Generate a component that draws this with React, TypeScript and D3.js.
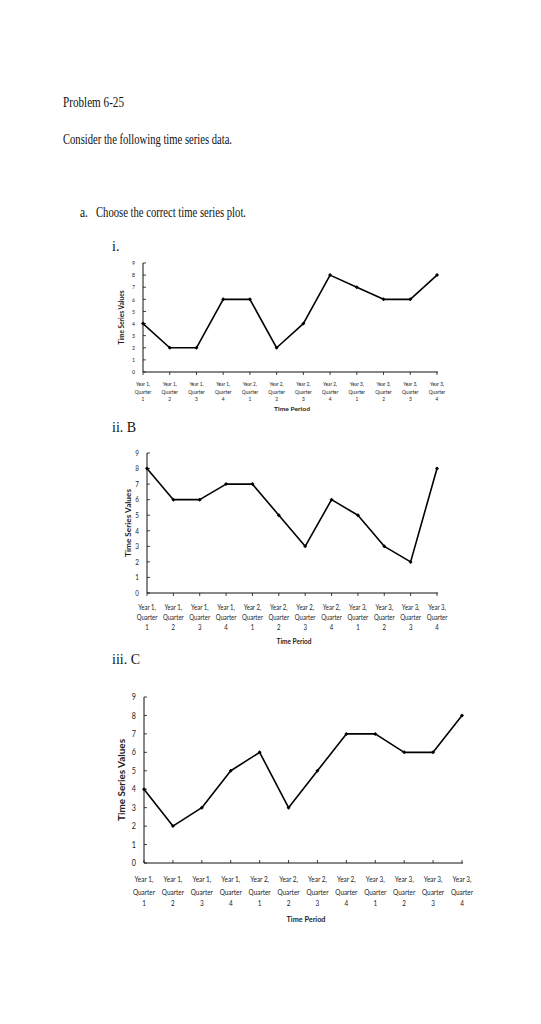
import * as d3 from "d3";

// data
const years = ["Year 1,", "Year 1,", "Year 1,", "Year 1,", "Year 2,", "Year 2,", "Year 2,", "Year 2,", "Year 3,", "Year 3,", "Year 3,", "Year 3,"];
const quarters = ["1", "2", "3", "4", "1", "2", "3", "4", "1", "2", "3", "4"];
const plotI = [4, 2, 2, 6, 6, 2, 4, 8, 7, 6, 6, 8];
const plotII = [8, 6, 6, 7, 7, 5, 3, 6, 5, 3, 2, 8];
const plotIII = [4, 2, 3, 5, 6, 3, 5, 7, 7, 6, 6, 8];
const yTicks = d3.range(0, 10);

const categories = years.map((y, i) => `${y} Q${quarters[i]}-${i}`);

interface ChartProps {
  values: number[];
  left: number;
  right: number;
  bottom: number;
  top: number;
  fs: number;
  tickFs: number;
  labelRows: [number, number, number];
  titleY: number;
  titleX: number;
  titleLen: number;
  yTitleX: number;
  yTitleLen: number;
  tickOut: boolean;
}

const SX = 0.8;

const Chart = ({ values, left, right, bottom, top, fs, tickFs, labelRows, titleY, titleX, titleLen, yTitleX, yTitleLen, tickOut }: ChartProps) => {
  const x = d3.scalePoint<string>().domain(categories).range([left, right]);
  const y = d3.scaleLinear().domain([0, 9]).range([bottom, top]);
  const line = d3
    .line<number>()
    .x((_, i) => x(categories[i]) as number)
    .y((d) => y(d));
  const tl = tickOut ? 3 : -3;
  const font = "Lato, 'Open Sans', sans-serif";

  const label = (tx: number, ty: number, s: string, key: string) => (
    <text key={key} transform={`translate(${tx},${ty}) scale(${SX},1)`} dy="0.35em" textAnchor="middle" fontSize={fs}>
      {s}
    </text>
  );

  return (
    <g fontFamily={font} fill="#222">
      {/* y axis */}
      <line x1={left} x2={left} y1={y(9)} y2={bottom} stroke="#111" strokeWidth={1} />
      {yTicks.map((t) => (
        <g key={t}>
          <line x1={left} x2={left + 3} y1={y(t)} y2={y(t)} stroke="#111" strokeWidth={0.8} />
          <text transform={`translate(${left - 8},${y(t)}) scale(${SX},1)`} dy="0.35em" textAnchor="end" fontSize={tickFs}>
            {t}
          </text>
        </g>
      ))}
      {/* x axis */}
      <line x1={left} x2={right + 1} y1={bottom} y2={bottom} stroke="#111" strokeWidth={1} />
      {categories.map((c, i) => {
        const cx = x(c) as number;
        return (
          <g key={c}>
            <line x1={cx} x2={cx} y1={bottom} y2={bottom + tl} stroke="#111" strokeWidth={0.8} />
            {label(cx, labelRows[0], years[i], "a")}
            {label(cx, labelRows[1], "Quarter", "b")}
            {label(cx, labelRows[2], quarters[i], "c")}
          </g>
        );
      })}
      <text
        x={titleX - titleLen / 2}
        y={titleY}
        dy="0.35em"
        fontSize={fs * 1.05}
        fontWeight="bold"
        textLength={titleLen}
        lengthAdjust="spacingAndGlyphs"
      >
        Time Period
      </text>
      <text
        transform={`translate(${yTitleX},${(top + bottom) / 2 + yTitleLen / 2}) rotate(-90)`}
        dy="0.35em"
        fontSize={fs * 1.1}
        fontWeight="bold"
        textLength={yTitleLen}
        lengthAdjust="spacingAndGlyphs"
      >
        Time Series Values
      </text>
      {/* series */}
      <path d={line(values) ?? ""} fill="none" stroke="#000" strokeWidth={1.6} strokeLinejoin="round" />
      {values.map((v, i) => {
        const cx = x(categories[i]) as number;
        const cy = y(v);
        return <path key={i} d={`M${cx},${cy - 2}L${cx + 2},${cy}L${cx},${cy + 2}L${cx - 2},${cy}Z`} fill="#000" />;
      })}
    </g>
  );
};

export default function App() {
  const serif = "'Liberation Serif', 'DejaVu Serif', serif";
  return (
    <svg
      width={541}
      height={1024}
      viewBox="0 0 541 1024"
      style={{ position: "absolute", left: 0, top: 0, background: "#fff" }}
    >
      <rect width={541} height={1024} fill="#fff" />
      <g fontFamily={serif} fill="#111">
        <text x={63} y={107} fontSize={15} textLength={61} lengthAdjust="spacingAndGlyphs">
          Problem 6-25
        </text>
        <text x={63} y={144} fontSize={14} textLength={169} lengthAdjust="spacingAndGlyphs">
          Consider the following time series data.
        </text>
        <text x={80} y={217} fontSize={14} textLength={8} lengthAdjust="spacingAndGlyphs">
          a.
        </text>
        <text x={96} y={217} fontSize={14} textLength={150} lengthAdjust="spacingAndGlyphs">
          Choose the correct time series plot.
        </text>
        <text x={112} y={251} fontSize={14}>
          i.
        </text>
        <text x={112} y={432} fontSize={14}>
          ii. B
        </text>
        <text x={112} y={664} fontSize={14}>
          iii. C
        </text>
      </g>
      <Chart
        values={plotI}
        left={143}
        right={437}
        bottom={372}
        top={263}
        fs={6}
        tickFs={6.5}
        labelRows={[384, 392, 399]}
        titleY={409}
        titleX={292}
        titleLen={36}
        yTitleX={122}
        yTitleLen={54}
        tickOut={true}
      />
      <Chart
        values={plotII}
        left={147}
        right={437}
        bottom={593}
        top={453}
        fs={7.5}
        tickFs={8}
        labelRows={[607, 617, 627]}
        titleY={641}
        titleX={294}
        titleLen={35}
        yTitleX={128}
        yTitleLen={68}
        tickOut={true}
      />
      <Chart
        values={plotIII}
        left={144}
        right={462}
        bottom={863}
        top={697}
        fs={8}
        tickFs={9}
        labelRows={[879, 892, 903]}
        titleY={919}
        titleX={306}
        titleLen={39}
        yTitleX={122}
        yTitleLen={82}
        tickOut={false}
      />
    </svg>
  );
}
